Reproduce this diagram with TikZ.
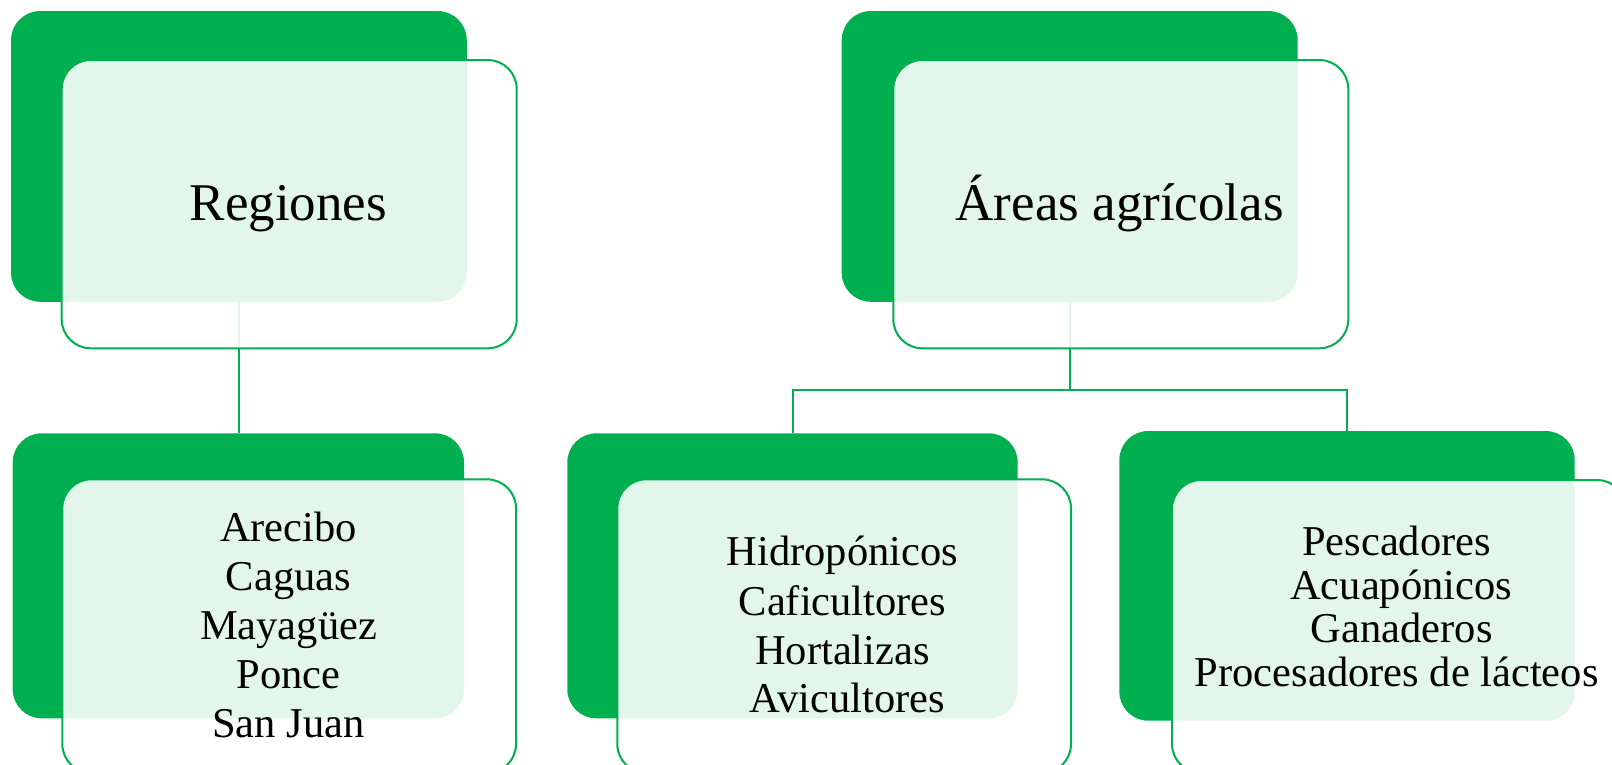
\documentclass[tikz,border=0pt]{standalone}
\usepackage{fontspec}
\setmainfont{Liberation Serif}
\definecolor{gr}{HTML}{00B050}
\begin{document}
\begin{tikzpicture}[x=1pt,y=-1pt,
  darkbox/.style={fill=gr, draw=none, rounded corners=29pt, inner sep=0pt},
  lightbox/.style={fill=white, fill opacity=0.89, draw=gr, line width=2pt, rounded corners=29pt, inner sep=0pt},
  link/.style={draw=gr, line width=2pt},
  title/.style={font=\fontsize{53pt}{61pt}\selectfont, anchor=base, inner sep=0pt},
  item/.style={font=\fontsize{42.5pt}{49pt}\selectfont, anchor=base, inner sep=0pt}]
\useasboundingbox (0,0) rectangle (1612,764);
\clip (0,0) rectangle (1612,764);
% dark back boxes
\node[darkbox, minimum width=455.7pt, minimum height=290.7pt] (d1) at (238.9,156.4) {};
\node[darkbox, minimum width=456pt, minimum height=290.7pt] (d2) at (1069.7,156.4) {};
\node[darkbox, minimum width=451.3pt, minimum height=285pt] (cd1) at (238.35,575.8) {};
\node[darkbox, minimum width=450.4pt, minimum height=285pt] (cd2) at (792.5,575.8) {};
\node[darkbox, minimum width=455.4pt, minimum height=289.7pt] (cd3) at (1347,575.85) {};
% connectors
\coordinate (bus) at (0,390);
\draw[link] (d1.south) -- (d1.south |- cd1.north);
\draw[link] (d2.south) -- (d2.south |- bus);
\draw[link] (cd2.north) -- (cd2.north |- bus) -- (cd3.north |- bus) -- (cd3.north);
% light front boxes
\node[lightbox, minimum width=455pt, minimum height=288.3pt] (l1) at (289.2,204.15) {};
\node[lightbox, minimum width=455pt, minimum height=288.3pt] (l2) at (1120.8,204.15) {};
\node[lightbox, minimum width=453.7pt, minimum height=293.7pt] (cl1) at (289.15,626.15) {};
\node[lightbox, minimum width=453.7pt, minimum height=293.7pt] (cl2) at (844.15,626.15) {};
\node[lightbox, minimum width=454pt, minimum height=293pt] (cl3) at (1399,626.5) {};
% texts
\node[title] (t1) at (288.3,220.7) {Regiones};
\node[title] (t2) at (1119.7,220.7) {Áreas agrícolas};
\foreach \t/\x/\y [count=\i] in {Arecibo/288.5/541.7, Caguas/288.5/590.7, Mayagüez/288.5/639.3, Ponce/288.5/688.3, San Juan/288.5/737.3}
  \node[item] (r\i) at (\x,\y) {\t};
\foreach \t/\x/\y [count=\i] in {Hidropónicos/842.5/565.7, Caficultores/842.5/615, Hortalizas/842.5/664, Avicultores/847.3/712.7}
  \node[item] (h\i) at (\x,\y) {\t};
\foreach \t/\x/\y [count=\i] in {Pescadores/1396.5/555, Acuapónicos/1401.2/599, Ganaderos/1401.7/642.7, Procesadores de lácteos/1396.7/686}
  \node[item] (p\i) at (\x,\y) {\t};
\end{tikzpicture}
\end{document}
